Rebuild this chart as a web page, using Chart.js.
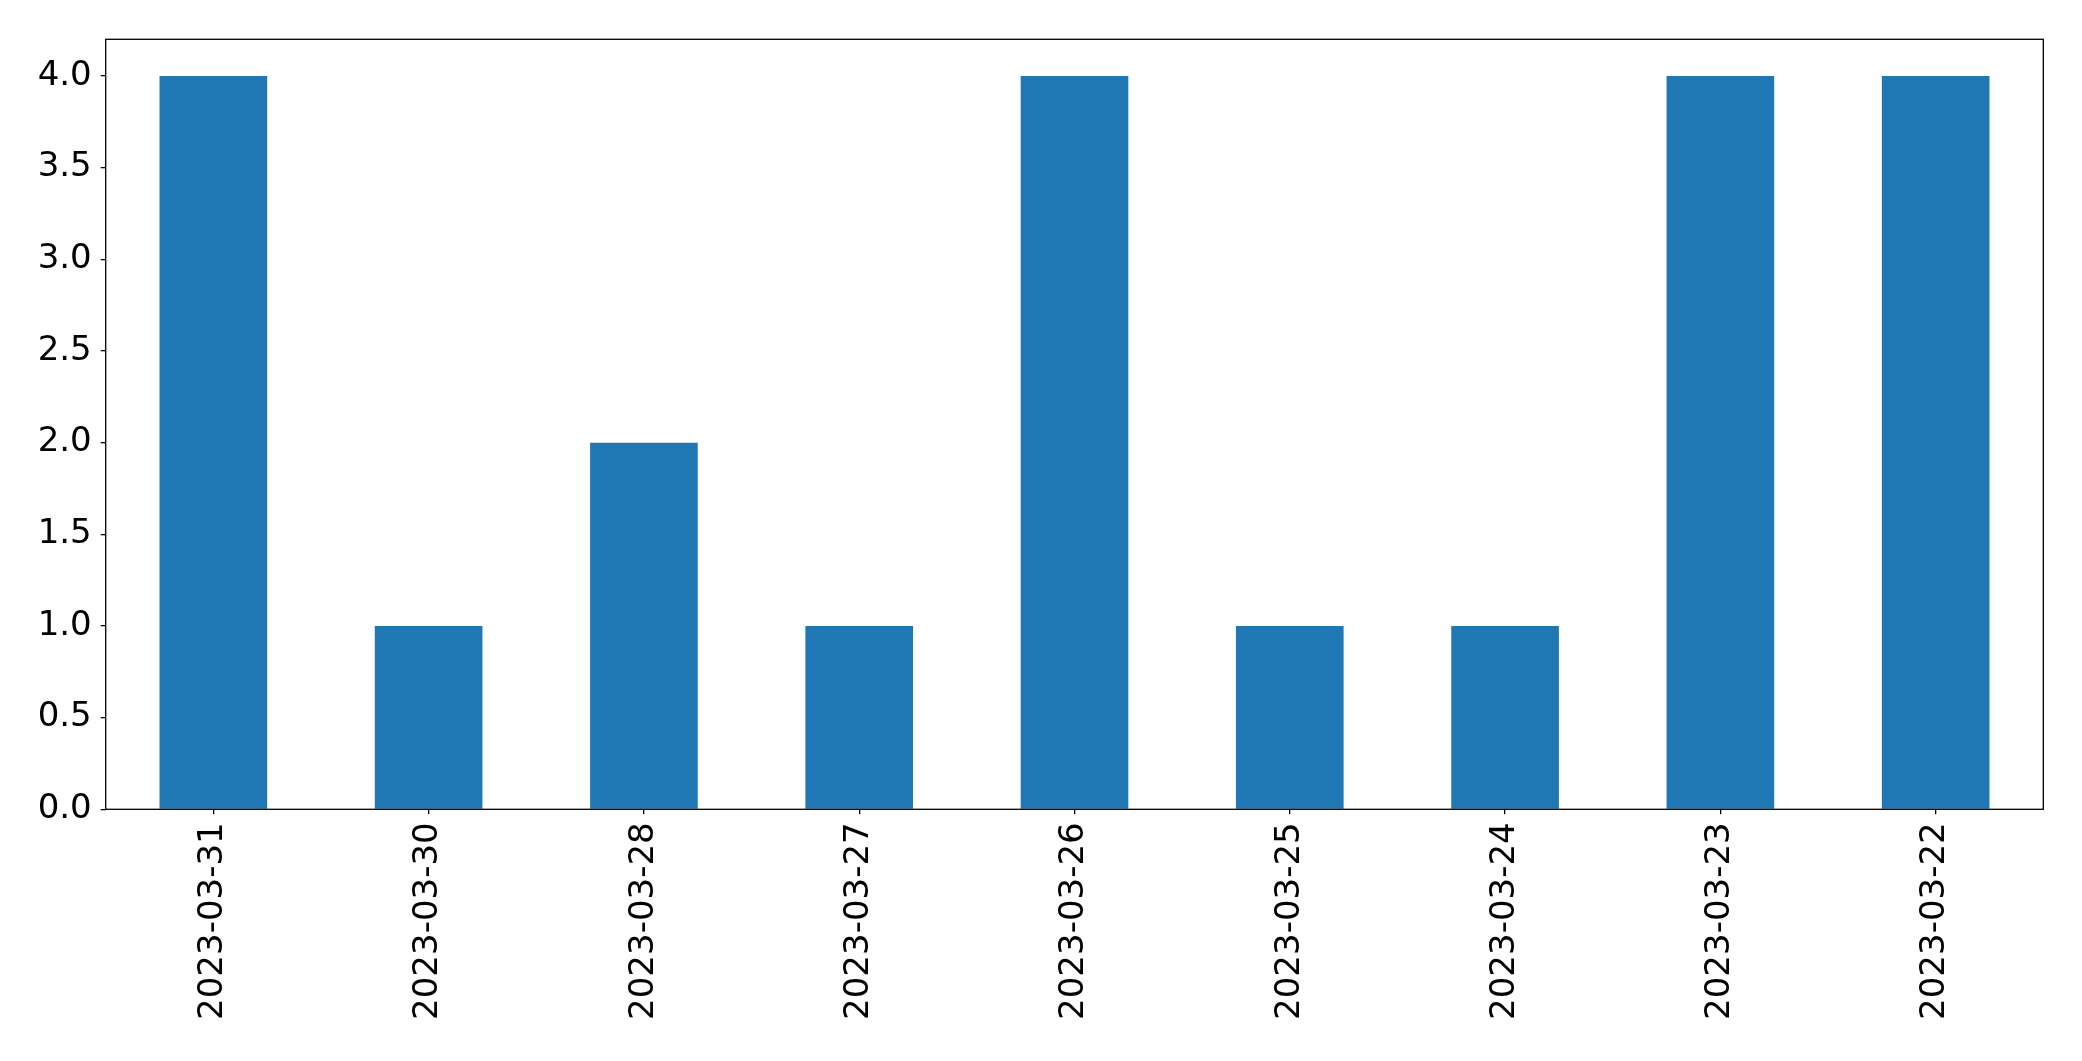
<!DOCTYPE html>
<html>
<head>
<meta charset="utf-8">
<script src="https://cdn.jsdelivr.net/npm/chart.js@4/dist/chart.umd.min.js"></script>
<style>
  html, body { margin: 0; padding: 0; background: #fff; }
  #wrap { width: 2082px; height: 1061px; position: relative; }
</style>
</head>
<body>
<div id="wrap"><canvas id="c" width="2082" height="1061"></canvas></div>
<script>
const categories = ["2023-03-31", "2023-03-30", "2023-03-28", "2023-03-27", "2023-03-26", "2023-03-25", "2023-03-24", "2023-03-23", "2023-03-22"];
const counts = [4, 1, 2, 1, 4, 1, 1, 4, 4];
const yTickValues = [0, 0.5, 1, 1.5, 2, 2.5, 3, 3.5, 4];

const PLOT_LEFT = 105.7, PLOT_RIGHT = 2043.3, PLOT_TOP = 39.3, PLOT_BOTTOM = 809.3;
const W = 2082, H = 1061;

const frame = {
  id: 'frame',
  afterDatasetsDraw(chart) {
    const a = chart.chartArea, ctx = chart.ctx;
    ctx.save();
    ctx.strokeStyle = '#000';
    ctx.lineWidth = 1.3;
    ctx.strokeRect(a.left, a.top, a.right - a.left, a.bottom - a.top);
    ctx.restore();
  }
};

new Chart(document.getElementById('c'), {
  type: 'bar',
  data: {
    labels: categories,
    datasets: [{
      data: counts,
      backgroundColor: '#1f77b4',
      borderWidth: 0,
      categoryPercentage: 1.0,
      barPercentage: 0.5
    }]
  },
  options: {
    responsive: false,
    animation: false,
    devicePixelRatio: 1,
    layout: { padding: { left: 0, right: W - PLOT_RIGHT, top: PLOT_TOP, bottom: 0 } },
    plugins: { legend: { display: false }, tooltip: { enabled: false } },
    scales: {
      x: {
        offset: true,
        grid: { display: true, offset: false, drawOnChartArea: false, drawTicks: true, tickLength: 5, color: '#000', lineWidth: 1.3 },
        border: { display: false },
        ticks: {
          color: '#000',
          font: { family: 'DejaVu Sans', size: 34 },
          minRotation: 90, maxRotation: 90,
          padding: 8,
          autoSkip: false
        },
        afterFit(scale) { scale.height = H - PLOT_BOTTOM; }
      },
      y: {
        min: 0, max: 4.2,
        grid: { display: true, drawOnChartArea: false, drawTicks: true, tickLength: 5, color: '#000', lineWidth: 1.3 },
        border: { display: false },
        afterBuildTicks(scale) { scale.ticks = yTickValues.map(v => ({ value: v })); },
        ticks: {
          color: '#000',
          font: { family: 'DejaVu Sans', size: 34 },
          padding: 9,
          callback: (v) => Number(v).toFixed(1)
        },
        afterFit(scale) { scale.width = PLOT_LEFT; }
      }
    }
  },
  plugins: [frame]
});
</script>
</body>
</html>
